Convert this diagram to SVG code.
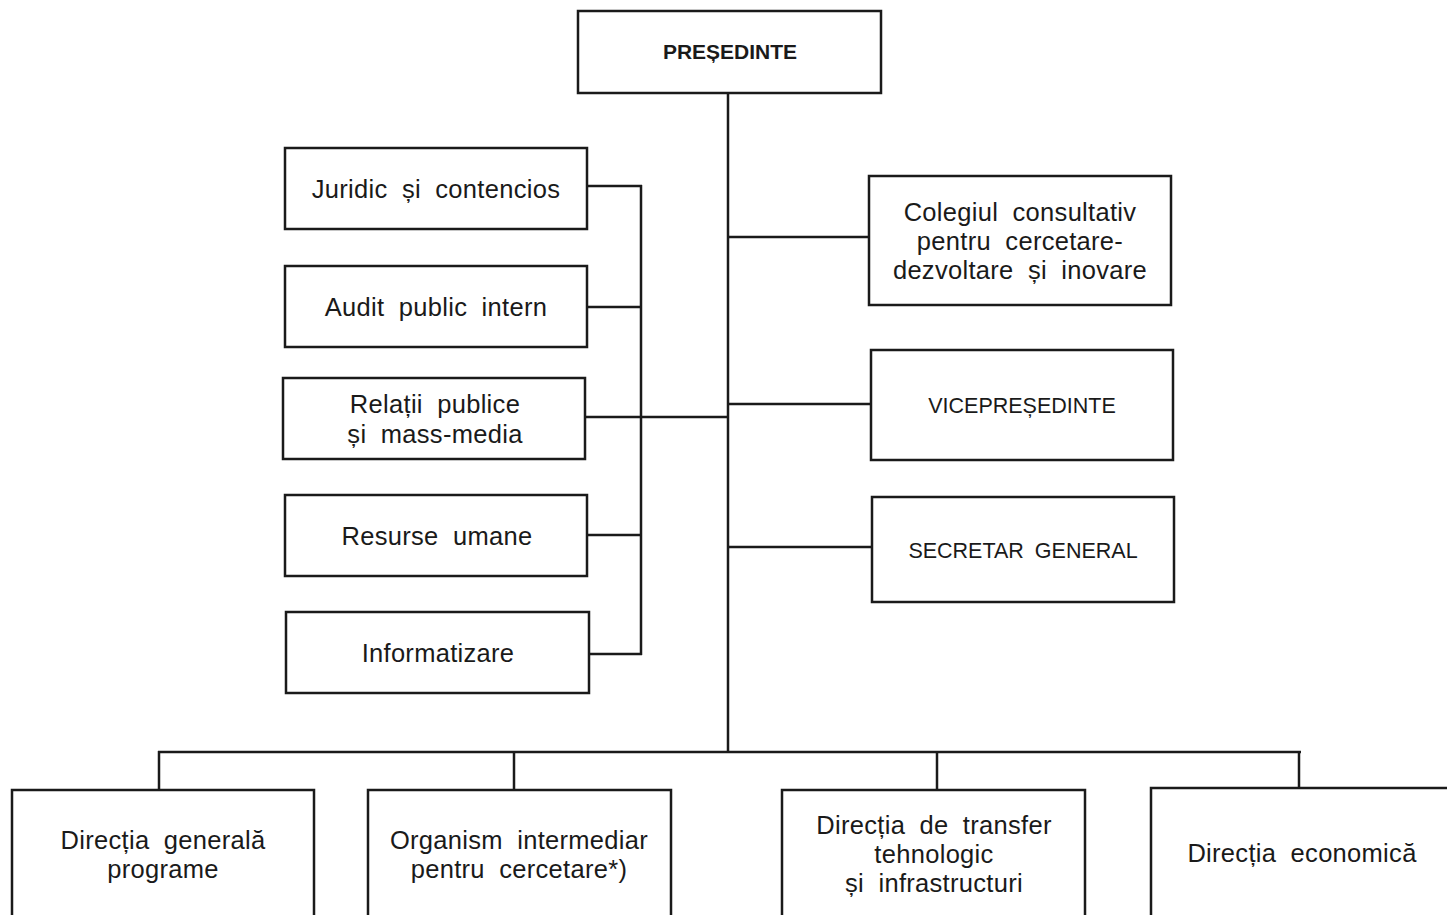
<svg xmlns="http://www.w3.org/2000/svg" width="1447" height="915" viewBox="0 0 1447 915">
<style>
rect{fill:#fff;stroke:#1a1a1a;stroke-width:2.5}
.c line{stroke:#1a1a1a;stroke-width:2.5}
text{font-family:"Liberation Sans",Arial,sans-serif;fill:#1a1a1a;text-anchor:middle}
.t{font-size:25.5px;word-spacing:7px;letter-spacing:0.3px}
.s{font-size:21.5px;word-spacing:5px}
.b{font-size:21px;font-weight:bold}
</style>
<rect x="0" y="0" width="1447" height="915" style="stroke:none"/>
<g class="c" id="connectors">
<line x1="728" y1="93" x2="728" y2="753"/>
<line x1="641" y1="185" x2="641" y2="655"/>
<line x1="587" y1="186" x2="642" y2="186"/>
<line x1="587" y1="307" x2="641" y2="307"/>
<line x1="585" y1="417" x2="728" y2="417"/>
<line x1="587" y1="535" x2="641" y2="535"/>
<line x1="589" y1="654" x2="642" y2="654"/>
<line x1="728" y1="237" x2="869" y2="237"/>
<line x1="728" y1="404" x2="871" y2="404"/>
<line x1="728" y1="547" x2="872" y2="547"/>
<line x1="158" y1="752" x2="1301" y2="752"/>
<line x1="159" y1="751" x2="159" y2="790"/>
<line x1="514" y1="751" x2="514" y2="790"/>
<line x1="937" y1="751" x2="937" y2="790"/>
<line x1="1299" y1="751" x2="1299" y2="788"/>
</g>
<g id="presedinte"><rect x="578" y="11" width="303" height="82"/><text class="b" x="730" y="59">PREȘEDINTE</text></g>
<g id="juridic"><rect x="285" y="148" width="302" height="81"/><text class="t" x="436" y="198">Juridic și contencios</text></g>
<g id="audit"><rect x="285" y="266" width="302" height="81"/><text class="t" x="436" y="316">Audit public intern</text></g>
<g id="relatii"><rect x="283" y="378" width="302" height="81"/><text class="t" x="435" y="413">Relații publice</text><text class="t" x="435" y="443">și mass-media</text></g>
<g id="resurse"><rect x="285" y="495" width="302" height="81"/><text class="t" x="437" y="545">Resurse umane</text></g>
<g id="informatizare"><rect x="286" y="612" width="303" height="81"/><text class="t" x="438" y="662">Informatizare</text></g>
<g id="colegiul"><rect x="869" y="176" width="302" height="129"/><text class="t" x="1020" y="221">Colegiul consultativ</text><text class="t" x="1020" y="250">pentru cercetare-</text><text class="t" x="1020" y="279">dezvoltare și inovare</text></g>
<g id="vicepresedinte"><rect x="871" y="350" width="302" height="110"/><text class="s" x="1022" y="413">VICEPREȘEDINTE</text></g>
<g id="secretar"><rect x="872" y="497" width="302" height="105"/><text class="s" x="1023" y="558">SECRETAR GENERAL</text></g>
<g id="dgp"><rect x="12" y="790" width="302" height="135"/><text class="t" x="163" y="849">Direcția generală</text><text class="t" x="163" y="878">programe</text></g>
<g id="oic"><rect x="368" y="790" width="303" height="135"/><text class="t" x="519" y="849">Organism intermediar</text><text class="t" x="519" y="878">pentru cercetare*)</text></g>
<g id="dtt"><rect x="782" y="790" width="303" height="135"/><text class="t" x="934" y="834">Direcția de transfer</text><text class="t" x="934" y="863">tehnologic</text><text class="t" x="934" y="892">și infrastructuri</text></g>
<g id="de"><rect x="1151" y="788" width="310" height="137"/><text class="t" x="1302" y="862">Direcția economică</text></g>
</svg>
